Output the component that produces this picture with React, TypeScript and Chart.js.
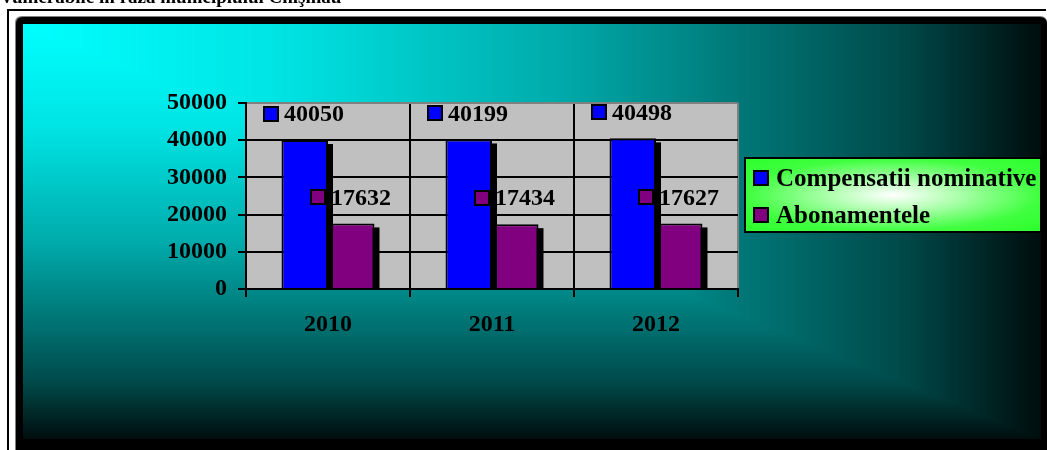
import React, { useEffect, useRef } from "react";
import { Chart, registerables } from "chart.js";

Chart.register(...registerables);

// ---------- data ----------
const years = ["2010", "2011", "2012"];
const compensatiiNominative = [40050, 40199, 40498];
const abonamentele = [17632, 17434, 17627];
const seriesNames = ["Compensatii nominative", "Abonamentele"];
const seriesColors = ["#0000FF", "#800080"];
const yMin = 0;
const yMax = 50000;
const yStep = 10000;
const titleText = "Vulnerabile în raza municipiului Chişinău";

const FONT = "'Times New Roman', 'Liberation Serif', serif";

// gradient stops: position -> channel intensity (teal: R=0, G=B)
const gradStops: [number, number][] = [
  [0, 255],
  [0.25, 228],
  [0.53, 170],
  [0.76, 104],
  [0.87, 72],
  [1, 14],
];

function colorAt(t: number): string {
  for (let i = 1; i < gradStops.length; i++) {
    const [p0, v0] = gradStops[i - 1];
    const [p1, v1] = gradStops[i];
    if (t <= p1) {
      const f = (t - p0) / (p1 - p0);
      const v = Math.round(v0 + (v1 - v0) * f);
      return `rgb(0,${v},${v})`;
    }
  }
  const v = gradStops[gradStops.length - 1][1];
  return `rgb(0,${v},${v})`;
}

function roundRect(ctx: CanvasRenderingContext2D, x: number, y: number, w: number, h: number, r: number) {
  ctx.beginPath();
  ctx.moveTo(x + r, y);
  ctx.lineTo(x + w - r, y);
  ctx.quadraticCurveTo(x + w, y, x + w, y + r);
  ctx.lineTo(x + w, y + h - r);
  ctx.quadraticCurveTo(x + w, y + h, x + w - r, y + h);
  ctx.lineTo(x + r, y + h);
  ctx.quadraticCurveTo(x, y + h, x, y + h - r);
  ctx.lineTo(x, y + r);
  ctx.quadraticCurveTo(x, y, x + r, y);
  ctx.closePath();
}

const panelPlugin = {
  id: "panelBackground",
  beforeDraw(chart: any) {
    const ctx: CanvasRenderingContext2D = chart.ctx;
    ctx.save();
    ctx.fillStyle = "#ffffff";
    ctx.fillRect(0, 0, chart.width, chart.height);
    // outer frame lines
    ctx.fillStyle = "#000";
    ctx.fillRect(7, 9, chart.width - 8, 2);
    ctx.fillRect(7, 9, 2, chart.height - 9);
    // panel edge + black border
    ctx.fillStyle = "#808080";
    roundRect(ctx, 15, 16, chart.width - 15, chart.height - 16 + 10, 7);
    ctx.fill();
    ctx.fillStyle = "#000";
    roundRect(ctx, 16, 17, chart.width - 16, chart.height - 17 + 10, 7);
    ctx.fill();
    // rectangular corner gradient
    const x0 = 23, y0 = 24, x1 = 1041, y1 = 439;
    const W = x1 - x0, H = y1 - y0;
    const N = 400;
    for (let i = N; i >= 1; i--) {
      const t = i / N;
      ctx.fillStyle = colorAt(t);
      ctx.fillRect(x0, y0, W * t, H * t);
    }
    // plot area background
    const a = chart.chartArea;
    ctx.fillStyle = "#C0C0C0";
    ctx.fillRect(a.left, a.top, a.right - a.left, a.bottom - a.top);
    ctx.restore();
  },
};

// black drop shadow behind each bar, drawn before its dataset
const shadowPlugin = {
  id: "barShadow",
  beforeDatasetDraw(chart: any, args: any) {
    const ctx: CanvasRenderingContext2D = chart.ctx;
    const a = chart.chartArea;
    const meta = args.meta;
    ctx.save();
    ctx.beginPath();
    ctx.rect(a.left, a.top, a.right - a.left, a.bottom - a.top);
    ctx.clip();
    ctx.fillStyle = "#000";
    meta.data.forEach((bar: any) => {
      const p = bar.getProps(["x", "y", "base", "width"], true);
      const left = p.x - p.width / 2;
      const top = Math.min(p.y, p.base);
      const h = Math.abs(p.base - p.y);
      ctx.fillRect(left + 5, top + 4, p.width, h);
    });
    ctx.restore();
  },
};

const valueLabelPlugin = {
  id: "valueLabels",
  afterDatasetsDraw(chart: any) {
    const ctx: CanvasRenderingContext2D = chart.ctx;
    ctx.save();
    ctx.font = `bold 24px ${FONT}`;
    ctx.textBaseline = "middle";
    ctx.textAlign = "left";
    chart.data.datasets.forEach((ds: any, di: number) => {
      const meta = chart.getDatasetMeta(di);
      meta.data.forEach((bar: any, i: number) => {
        const text = String(ds.data[i]);
        const tw = ctx.measureText(text).width;
        const sq = 16;
        const gap = 5;
        const total = sq + gap + tw;
        const cx = bar.x - 1;
        const cy = bar.y - 26;
        const left = Math.round(cx - total / 2);
        const top = Math.round(cy - sq / 2);
        ctx.fillStyle = "#000";
        ctx.fillRect(left, top, sq, sq);
        ctx.fillStyle = ds.backgroundColor;
        ctx.fillRect(left + 2, top + 2, sq - 4, sq - 4);
        ctx.fillStyle = "#000";
        ctx.fillText(text, left + sq + gap, cy + 1);
      });
    });
    ctx.restore();
  },
};

export default function App() {
  const canvasRef = useRef<HTMLCanvasElement | null>(null);

  useEffect(() => {
    const canvas = canvasRef.current;
    if (!canvas) return;
    const tickFont = { family: FONT, size: 24, weight: "bold" as const };
    const chart = new Chart(canvas, {
      type: "bar",
      data: {
        labels: years,
        datasets: [
          {
            label: seriesNames[0],
            data: compensatiiNominative,
            backgroundColor: seriesColors[0],
            borderColor: "#000",
            borderWidth: 2,
            clip: 0,
          },
          {
            label: seriesNames[1],
            data: abonamentele,
            backgroundColor: seriesColors[1],
            borderColor: "#000",
            borderWidth: 2,
            clip: 0,
          },
        ],
      },
      options: {
        responsive: false,
        animation: false,
        devicePixelRatio: 1,
        layout: { padding: { left: 0, top: 103, right: 309, bottom: 0 } },
        datasets: { bar: { categoryPercentage: 0.567, barPercentage: 1 } },
        plugins: {
          legend: { display: false },
          tooltip: { enabled: false },
          title: { display: false },
        },
        scales: {
          x: {
            grid: {
              offset: true,
              color: (c: any) => (c.tick ? "#000" : "#808080"),
              tickColor: "#000",
              lineWidth: 2,
              tickLength: 8,
            },
            border: { color: "#000", width: 2 },
            ticks: { color: "#000", font: tickFont, padding: 13 },
            afterFit: (s: any) => {
              s.height = 161;
            },
          },
          y: {
            min: yMin,
            max: yMax,
            grid: {
              color: (c: any) => (c.tick && c.tick.value === yMax ? "#808080" : "#000"),
              tickColor: "#000",
              lineWidth: 2,
              tickLength: 8,
            },
            border: { color: "#000", width: 2 },
            ticks: {
              stepSize: yStep,
              color: "#000",
              font: tickFont,
              padding: 11,
              callback: (v: any) => String(v),
            },
            afterFit: (s: any) => {
              s.width = 246;
            },
          },
        },
      },
      plugins: [panelPlugin, shadowPlugin, valueLabelPlugin],
    });
    return () => chart.destroy();
  }, []);

  return (
    <div
      style={{
        position: "absolute",
        left: 0,
        top: 0,
        width: 1047,
        height: 450,
        overflow: "hidden",
        background: "#fff",
      }}
    >
      <canvas
        ref={canvasRef}
        width={1047}
        height={450}
        style={{ position: "absolute", left: 0, top: 0, width: 1047, height: 450 }}
      />
      <div
        style={{
          position: "absolute",
          left: 0,
          top: -13,
          font: `bold 19px ${FONT}`,
          lineHeight: "19px",
          whiteSpace: "nowrap",
          color: "#000",
        }}
      >
        {titleText}
      </div>
      <div
        style={{
          position: "absolute",
          left: 744,
          top: 157,
          width: 298,
          height: 76,
          boxSizing: "border-box",
          border: "2px solid #000",
          background:
            "radial-gradient(ellipse at 50% 50%, #ffffff 0%, #b0ffb0 30%, #40ff40 70%, #2cff2c 100%)",
        }}
      >
        {seriesNames.map((name, i) => (
          <div
            key={name}
            style={{
              position: "absolute",
              left: 7,
              top: 10 + i * 37,
              height: 18,
              display: "flex",
              alignItems: "center",
              font: `bold 25px ${FONT}`,
              lineHeight: "18px",
              whiteSpace: "nowrap",
              color: "#000",
            }}
          >
            <span
              style={{
                display: "inline-block",
                flex: "0 0 auto",
                width: 16,
                height: 16,
                boxSizing: "border-box",
                border: "2px solid #000",
                background: seriesColors[i],
                marginRight: 7,
              }}
            />
            {name}
          </div>
        ))}
      </div>
    </div>
  );
}
